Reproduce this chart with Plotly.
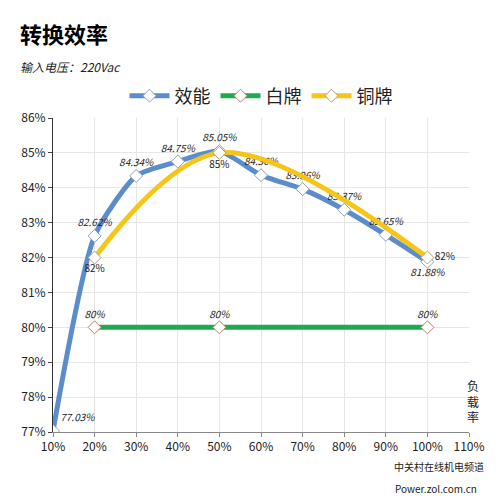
import plotly.graph_objects as go

loads = [10, 20, 30, 40, 50, 60, 70, 80, 90, 100]
eff = [77.03, 82.62, 84.34, 84.75, 85.05, 84.36, 83.96, 83.37, 82.65, 81.88]
white_x = [20, 50, 100]
white_y = [80, 80, 80]
bronze_x = [20, 50, 100]
bronze_y = [82, 85, 82]
xticks = [10, 20, 30, 40, 50, 60, 70, 80, 90, 100, 110]

font = "Noto Sans CJK SC"
fig = go.Figure()
fig.add_trace(go.Scatter(
    x=loads, y=eff, name="效能", mode="lines+markers+text",
    line=dict(color="#5b8ccc", width=5, shape="spline", smoothing=0.6),
    marker=dict(symbol="diamond", size=10, color="white", line=dict(color="#8aa0b8", width=1)),
    text=[f"<i>{v:.2f}%</i>" for v in eff],
    textposition=["top right", "top center", "top center", "top center", "top center",
                   "top center", "top center", "top center", "top center", "bottom center"],
    textfont=dict(size=10, color="#222"),
))
fig.add_trace(go.Scatter(
    x=white_x, y=white_y, name="白牌", mode="lines+markers+text",
    line=dict(color="#1faa4f", width=5),
    marker=dict(symbol="diamond", size=10, color="white", line=dict(color="#c08070", width=1)),
    text=[f"<i>{v:g}%</i>" for v in white_y], textposition="top center",
    textfont=dict(size=10, color="#222"),
))
fig.add_trace(go.Scatter(
    x=bronze_x, y=bronze_y, name="铜牌", mode="lines+markers+text",
    line=dict(color="#f5c518", width=5, shape="spline", smoothing=1.0),
    marker=dict(symbol="diamond", size=10, color="white", line=dict(color="#b0a070", width=1)),
    text=[f"{v:g}%" for v in bronze_y],
    textposition=["bottom center", "bottom center", "middle right"],
    textfont=dict(size=10, color="#222"),
))

fig.update_layout(
    width=500, height=501, plot_bgcolor="white", paper_bgcolor="white",
    margin=dict(l=45, r=39, t=110, b=77),
    font=dict(family=font, size=12, color="#222"),
    showlegend=True,
    legend=dict(orientation="h", x=0.5, xanchor="center", y=1.07, yanchor="middle",
                font=dict(size=18), itemwidth=40),
    xaxis=dict(range=[10, 110], tickvals=xticks, ticktext=[f"{v}%" for v in xticks],
               showgrid=True, gridcolor="#e6e6e6", showline=True, linecolor="#888",
               ticks="outside", ticklen=4, tickcolor="#888", zeroline=False),
    yaxis=dict(range=[77, 86], dtick=1, ticksuffix="%", showgrid=True, gridcolor="#e6e6e6",
               showline=True, linecolor="#333", ticks="outside", ticklen=4, zeroline=False),
    annotations=[
        dict(text="<b>转换效率</b>", x=-0.085, y=1.27, xref="paper", yref="paper",
             xanchor="left", yanchor="middle", showarrow=False, font=dict(size=22, color="black")),
        dict(text="<i>输入电压：220Vac</i>", x=-0.085, y=1.165, xref="paper", yref="paper",
             xanchor="left", yanchor="middle", showarrow=False, font=dict(size=12)),
        dict(text="负<br>载<br>率", x=1.01, y=0.1, xref="paper", yref="paper",
             xanchor="center", yanchor="middle", showarrow=False, font=dict(size=12)),
        dict(text="中关村在线机电频道", x=1.04, y=-0.11, xref="paper", yref="paper",
             xanchor="right", yanchor="middle", showarrow=False, font=dict(size=10)),
        dict(text="Power.zol.com.cn", x=1.025, y=-0.18, xref="paper", yref="paper",
             xanchor="right", yanchor="middle", showarrow=False, font=dict(size=10)),
    ],
)
fig.write_html("out.html")
